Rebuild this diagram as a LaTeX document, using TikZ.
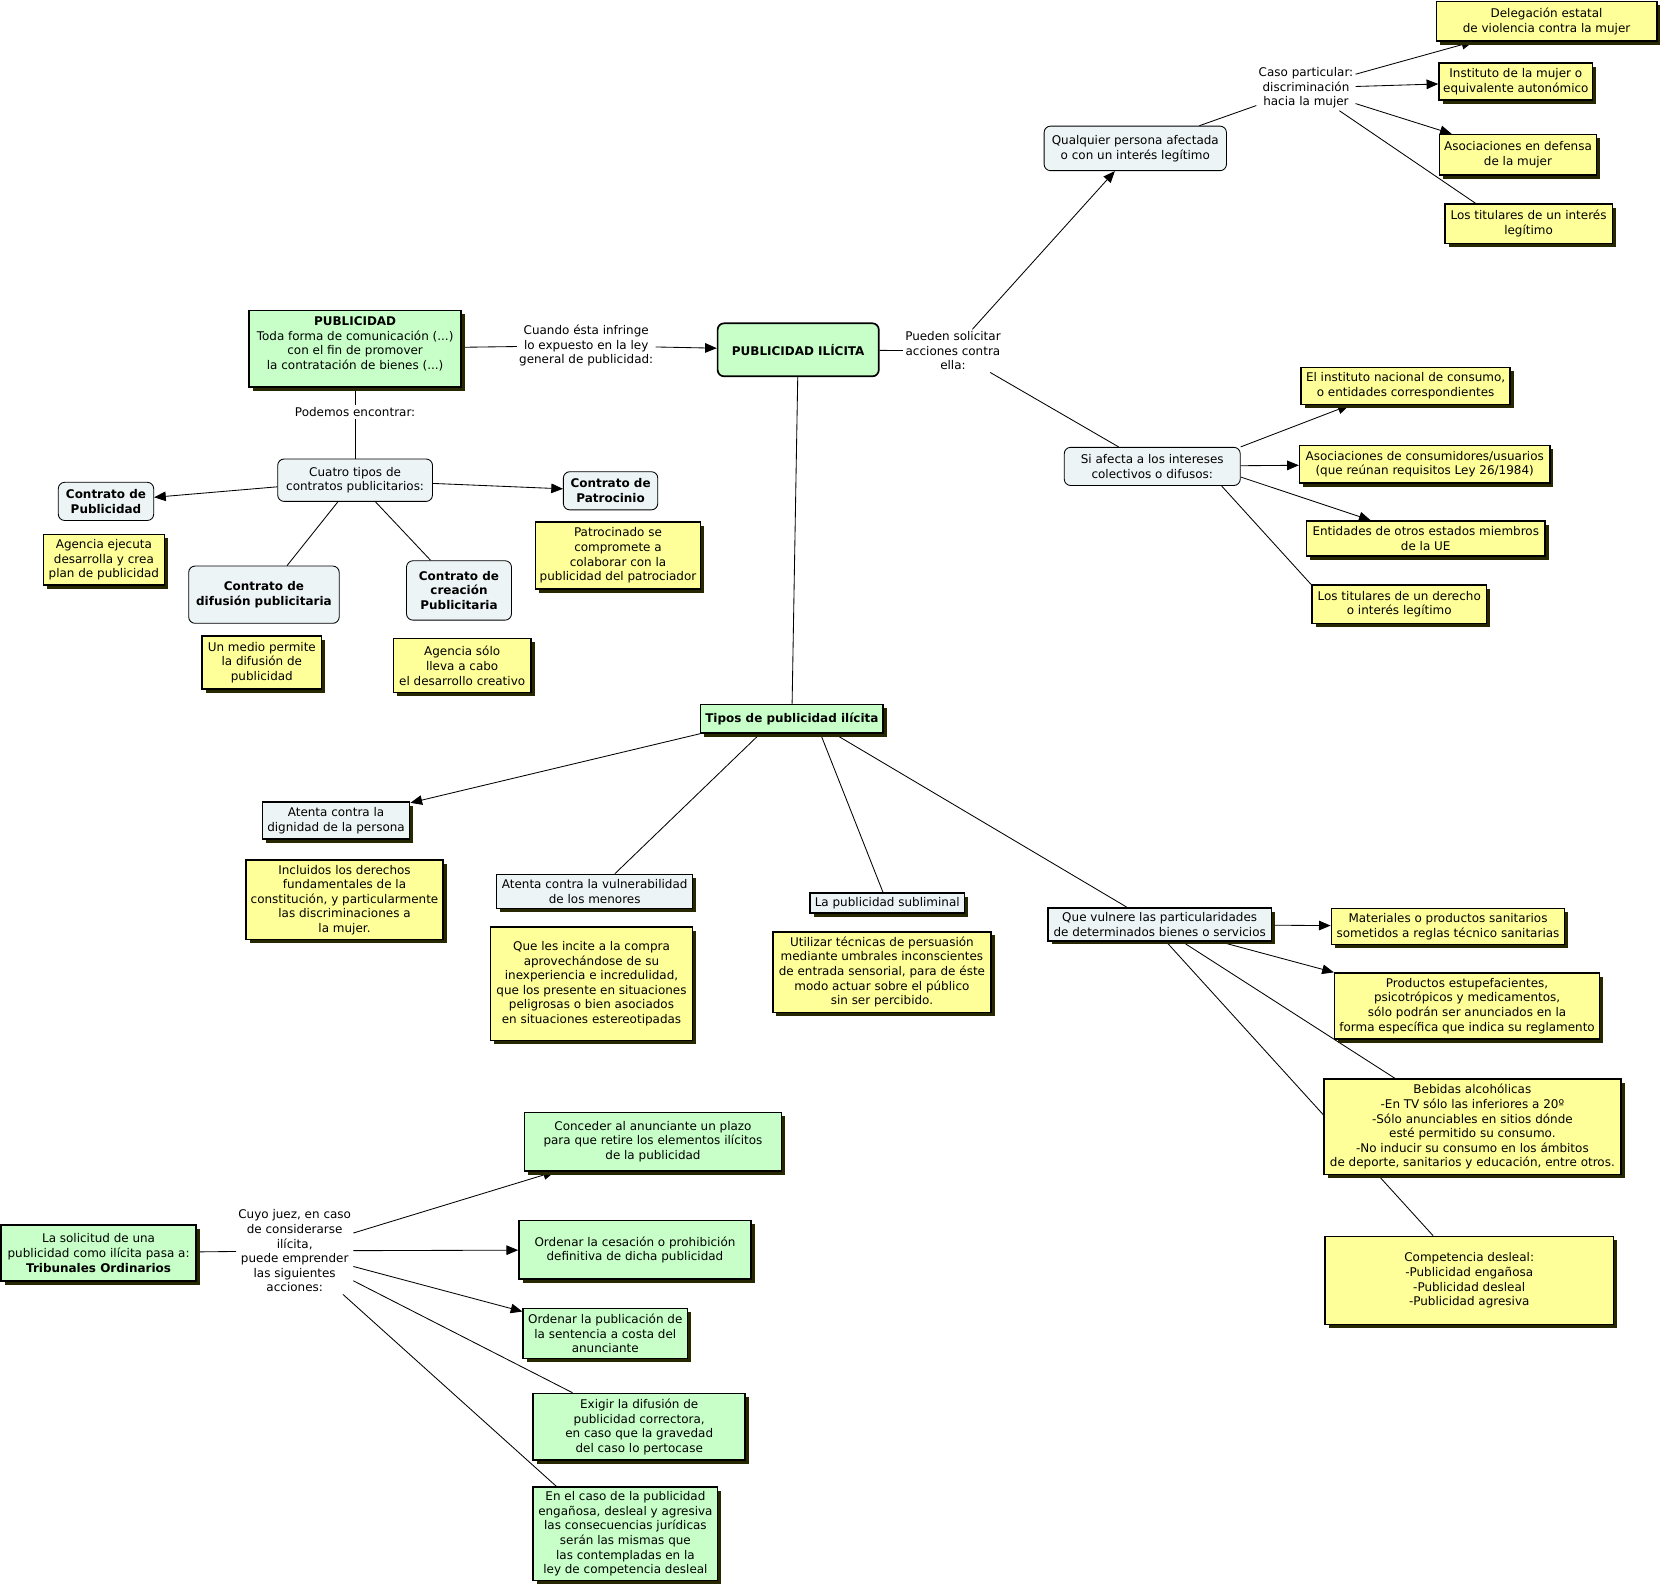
\documentclass[tikz,border=0pt]{standalone}
\usepackage{fontspec}
\setmainfont{DejaVu Sans}
\usetikzlibrary{arrows.meta,shadows}
\definecolor{ycol}{RGB}{255,255,153}
\definecolor{gcol}{RGB}{200,255,200}
\definecolor{bcol}{RGB}{237,244,246}
\definecolor{shcol}{RGB}{40,40,0}
\newcommand{\myfs}{\fontsize{11.3}{13.8}\selectfont}
\pgfdeclarelayer{back}
\pgfdeclarelayer{lines}
\pgfsetlayers{back,lines,main}
\tikzset{
  base/.style={font=\myfs, align=center, inner sep=2pt},
  ybox/.style={base, draw=black, line width=1.4pt, fill=ycol,
    drop shadow={shadow xshift=3.5pt, shadow yshift=-3.5pt, fill=shcol, opacity=1}},
  gbox/.style={ybox, fill=gcol},
  bbox/.style={ybox, fill=bcol},
  rbox/.style={base, draw=black, line width=0.8pt, fill=bcol, rounded corners=6pt},
  lbl/.style={base},
  conn/.style={line width=0.8pt},
  arr/.style={conn, -{Triangle[length=11pt,width=9pt]}},
}
\begin{document}
\begin{tikzpicture}[x=1pt,y=-1pt]
\begin{pgfonlayer}{back}
\fill[white] (0,0) rectangle (1566,1497);
\end{pgfonlayer}
\useasboundingbox (0,0) rectangle (1566,1497);

% ---- top / centre
\node[gbox, minimum width=200, minimum height=72] (pub) at (335,329)
  {\textbf{PUBLICIDAD}\\Toda forma de comunicación (...)\\con el fin de promover\\la contratación de bienes (...)\\[-3pt]\mbox{}};
\node[lbl] (cuando) at (553,326) {Cuando ésta infringe\\lo expuesto en la ley\\general de publicidad:};
\node[base, draw=black, line width=1.6pt, fill=gcol, rounded corners=6pt, minimum width=152, minimum height=50] (pi) at (753,330)
  {\textbf{PUBLICIDAD ILÍCITA}};
\node[lbl] (pueden) at (899,331) {Pueden solicitar\\acciones contra\\ella:};

% ---- upper right
\node[rbox, minimum width=172, minimum height=42] (qual) at (1071,140) {Qualquier persona afectada\\o con un interés legítimo};
\node[lbl] (caso) at (1232,83) {Caso particular:\\discriminación\\hacia la mujer};
\node[ybox, minimum width=208, minimum height=37] (deleg) at (1459,20) {Delegación estatal\\de violencia contra la mujer};
\node[ybox, minimum width=145, minimum height=35] (instm) at (1430,77) {Instituto de la mujer o\\equivalente autonómico};
\node[ybox, minimum width=148, minimum height=38] (asocm) at (1432,146) {Asociaciones en defensa\\de la mujer};
\node[ybox, minimum width=158, minimum height=37] (titi) at (1442,211) {Los titulares de un interés\\legítimo};

\node[rbox, minimum width=166, minimum height=36] (siaf) at (1087,440) {Si afecta a los intereses\\colectivos o difusos:};
\node[ybox, minimum width=197, minimum height=35] (instn) at (1326,364) {El instituto nacional de consumo,\\o entidades correspondientes};
\node[ybox, minimum width=236, minimum height=35] (asocc) at (1344,438) {Asociaciones de consumidores/usuarios\\(que reúnan requisitos Ley 26/1984)};
\node[ybox, minimum width=225, minimum height=33] (ent) at (1345,508) {Entidades de otros estados miembros\\de la UE};
\node[ybox, minimum width=165, minimum height=36] (titd) at (1320,570) {Los titulares de un derecho\\o interés legítimo};

% ---- left (contracts)
\node[lbl] (podemos) at (335,389) {Podemos encontrar:};
\node[rbox, minimum width=146, minimum height=40] (cuatro) at (335,453) {Cuatro tipos de\\contratos publicitarios:};
\node[rbox, minimum width=90, minimum height=36, font=\myfs\bfseries] (cpub) at (100,473) {Contrato de\\Publicidad};
\node[ybox, minimum width=114, minimum height=48] (age) at (98,528) {Agencia ejecuta\\desarrolla y crea\\plan de publicidad};
\node[rbox, minimum width=89, minimum height=36, font=\myfs\bfseries] (cpat) at (576,463) {Contrato de\\Patrocinio};
\node[ybox, minimum width=156, minimum height=63] (patro) at (583,524) {Patrocinado se\\compromete a\\colaborar con la\\publicidad del patrociador};
\node[rbox, minimum width=142, minimum height=54, font=\myfs\bfseries] (cdif) at (249,561) {Contrato de\\difusión publicitaria};
\node[ybox, minimum width=113, minimum height=50] (unm) at (247,625) {Un medio permite\\la difusión de\\publicidad};
\node[rbox, minimum width=99, minimum height=56, font=\myfs\bfseries] (ccre) at (433,557) {Contrato de\\creación\\Publicitaria};
\node[ybox, minimum width=130, minimum height=51] (ags) at (436,628) {Agencia sólo\\lleva a cabo\\el desarrollo creativo};

% ---- types
\node[gbox, minimum width=172, minimum height=27, font=\myfs\bfseries] (tipos) at (747,678) {Tipos de publicidad ilícita};
\node[bbox, minimum width=139, minimum height=35] (atd) at (317,774) {Atenta contra la\\dignidad de la persona};
\node[ybox, minimum width=186, minimum height=75] (incl) at (325,849) {Incluidos los derechos\\fundamentales de la\\constitución, y particularmente\\las discriminaciones a\\la mujer.};
\node[bbox, minimum width=185, minimum height=32] (atv) at (561,841) {Atenta contra la vulnerabilidad\\de los menores};
\node[ybox, minimum width=191, minimum height=107] (quel) at (558,928) {Que les incite a la compra\\aprovechándose de su\\inexperiencia e incredulidad,\\que los presente en situaciones\\peligrosas o bien asociados\\en situaciones estereotipadas};
\node[bbox, minimum width=146, minimum height=19] (subl) at (837,852) {La publicidad subliminal};
\node[ybox, minimum width=206, minimum height=76] (util) at (832,917) {Utilizar técnicas de persuasión\\mediante umbrales inconscientes\\de entrada sensorial, para de éste\\modo actuar sobre el público\\sin ser percibido.};
\node[bbox, minimum width=211, minimum height=31] (quev) at (1094,872) {Que vulnere las particularidades\\de determinados bienes o servicios};
\node[ybox, minimum width=220, minimum height=34] (mat) at (1366,874) {Materiales o productos sanitarios\\sometidos a reglas técnico sanitarias};
\node[ybox, minimum width=250, minimum height=62] (prod) at (1384,949) {Productos estupefacientes,\\psicotrópicos y medicamentos,\\sólo podrán ser anunciados en la\\forma específica que indica su reglamento};
\node[ybox, minimum width=280, minimum height=90] (beb) at (1389,1063) {Bebidas alcohólicas\\-En TV sólo las inferiores a 20º\\-Sólo anunciables en sitios dónde\\esté permitido su consumo.\\-No inducir su consumo en los ámbitos\\de deporte, sanitarios y educación, entre otros.};
\node[ybox, minimum width=272, minimum height=83] (comp) at (1386,1208) {Competencia desleal:\\-Publicidad engañosa\\-Publicidad desleal\\-Publicidad agresiva};

% ---- bottom left
\node[gbox, minimum width=184, minimum height=53] (sol) at (93,1182) {La solicitud de una\\publicidad como ilícita pasa a:\\\textbf{Tribunales Ordinarios}};
\node[lbl] (cuyo) at (278,1180) {Cuyo juez, en caso\\de considerarse\\ilícita,\\puede emprender\\las siguientes\\acciones:};
\node[gbox, minimum width=242, minimum height=55] (conc) at (616,1077) {Conceder al anunciante un plazo\\para que retire los elementos ilícitos\\de la publicidad};
\node[gbox, minimum width=219, minimum height=55] (ordc) at (599,1179) {Ordenar la cesación o prohibición\\definitiva de dicha publicidad};
\node[gbox, minimum width=155, minimum height=47] (ordp) at (571,1258) {Ordenar la publicación de\\la sentencia a costa del\\anunciante};
\node[gbox, minimum width=200, minimum height=63] (exig) at (603,1346) {Exigir la difusión de\\publicidad correctora,\\en caso que la gravedad\\del caso lo pertocase};
\node[gbox, minimum width=174, minimum height=88] (enc) at (590,1447) {En el caso de la publicidad\\engañosa, desleal y agresiva\\las consecuencias jurídicas\\serán las mismas que\\las contempladas en la\\ley de competencia desleal};

% ---- connectors
\begin{pgfonlayer}{lines}
\draw[conn] (pub) -- (cuando);
\draw[arr] (cuando) -- (pi);
\draw[conn] (pi) -- (pueden);
\draw[arr] (pueden) -- (qual);
\draw[conn] (pueden) -- (siaf);
\draw[conn] (qual) -- (caso);
\draw[arr] (caso) -- (deleg);
\draw[arr] (caso) -- (instm);
\draw[arr] (caso) -- (asocm);
\draw[conn] (caso) -- ([xshift=-50pt]titi.north);
\draw[arr] (siaf.north east) -- ([xshift=-53pt]instn.south);
\draw[arr] (siaf) -- (asocc);
\draw[arr] ([yshift=-10pt]siaf.east) -- ([xshift=-52pt]ent.north);
\draw[conn] ([xshift=-18pt]siaf.south east) -- (titd.north west);
\draw[conn] (pub) -- (podemos);
\draw[conn] (podemos) -- (cuatro);
\draw[arr] (cuatro) -- (cpub);
\draw[arr] (cuatro) -- (cpat);
\draw[conn] (cuatro) -- (cdif);
\draw[conn] (cuatro) -- (ccre);
\draw[conn] (pi) -- (tipos);
\draw[arr] (tipos.south west) -- (atd);
\draw[conn] ([xshift=-30pt]tipos.south) -- ([xshift=19pt]atv.north);
\draw[conn] ([xshift=27pt]tipos.south) -- ([xshift=-4pt]subl.north);
\draw[conn] ([xshift=40pt]tipos.south) -- ([xshift=-31pt]quev.north);
\draw[arr] (quev) -- (mat);
\draw[arr] ([xshift=56pt]quev.south) -- (prod.north west);
\draw[conn] ([xshift=21pt]quev.south) -- ([xshift=-73pt]beb.north);
\draw[conn] ([xshift=6pt]quev.south) -- ([xshift=-34pt]comp.north);
\draw[conn] (sol) -- (cuyo);
\draw[arr] (cuyo) -- (conc);
\draw[arr] (cuyo) -- (ordc);
\draw[arr] (cuyo) -- (ordp);
\draw[conn] (cuyo) -- ([xshift=-63pt]exig.north);
\draw[conn] (cuyo) -- ([xshift=-65pt]enc.north);
\end{pgfonlayer}
\end{tikzpicture}
\end{document}
